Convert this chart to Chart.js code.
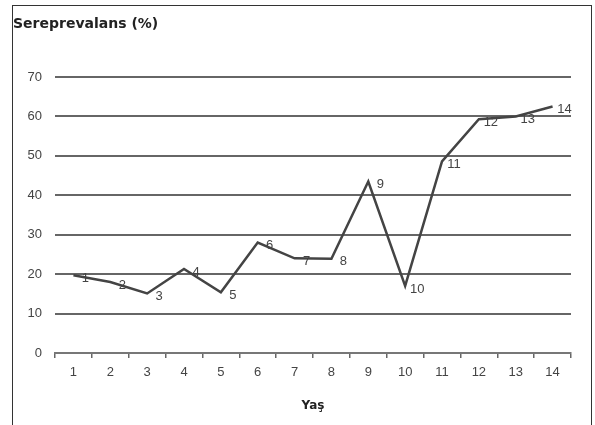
<!DOCTYPE html>
<html><head><meta charset="utf-8">
<script src="https://cdn.jsdelivr.net/npm/chart.js@4"></script>
<style>
html,body{margin:0;padding:0;background:#fff;}
#wrap{position:relative;width:595px;height:425px;overflow:hidden;}
#frame{position:absolute;left:12px;top:5px;width:580px;height:440px;border:1.5px solid #333;box-sizing:border-box;}
canvas{position:absolute;left:0;top:0;}
</style></head>
<body><div id="wrap"><div id="frame"></div><canvas id="c" width="595" height="425"></canvas></div>
<script>
const categories = ['1','2','3','4','5','6','7','8','9','10','11','12','13','14'];
const seroprevalence = [19.7, 18.0, 15.1, 21.3, 15.4, 28.0, 24.0, 23.9, 43.5, 17.0, 48.6, 59.3, 60.0, 62.5];
const yTitle = 'Sereprevalans (%)';
const xTitle = 'Yaş';

const FONT = '"Liberation Sans", Arial, sans-serif';

const pointLabels = {
  id: 'pointLabels',
  afterDatasetsDraw(chart) {
    const ctx = chart.ctx;
    const meta = chart.getDatasetMeta(0);
    ctx.save();
    ctx.font = '13px ' + FONT;
    ctx.fillStyle = '#444';
    ctx.textAlign = 'center';
    ctx.textBaseline = 'middle';
    meta.data.forEach((p, i) => {
      ctx.fillText(categories[i], p.x + 12, p.y + 3);
    });
    ctx.font = 'bold 14px "DejaVu Sans", sans-serif';
    ctx.fillStyle = '#222';
    ctx.textAlign = 'left';
    ctx.fillText(yTitle, 13, 24);
    ctx.restore();
  }
};

new Chart(document.getElementById('c'), {
  type: 'line',
  data: {
    labels: categories,
    datasets: [{
      data: seroprevalence,
      borderColor: '#444',
      borderWidth: 2.5,
      pointRadius: 0,
      tension: 0,
      fill: false
    }]
  },
  options: {
    responsive: false,
    animation: false,
    devicePixelRatio: 1,
    layout: { padding: { left: 0, top: 77, right: 24, bottom: 12 } },
    plugins: { legend: { display: false }, tooltip: { enabled: false }, title: { display: false } },
    scales: {
      x: {
        type: 'category',
        offset: true,
        grid: { offset: true, drawOnChartArea: false, drawTicks: true, tickLength: 5, color: '#666', lineWidth: 1.5 },
        border: { display: true, color: '#777', width: 2 },
        ticks: { color: '#444', padding: 7, font: { family: FONT, size: 13 }, maxRotation: 0, autoSkip: false },
        title: { display: true, text: xTitle, color: '#222', font: { family: '"DejaVu Sans", sans-serif', size: 12, weight: 'bold' }, padding: { top: 8, bottom: 0 } },
        afterFit: s => { s.height = 425 - 353 - 12; }
      },
      y: {
        min: 0, max: 70,
        ticks: { stepSize: 10, color: '#444', padding: 13, font: { family: FONT, size: 13 } },
        grid: { color: '#666', lineWidth: 2, drawTicks: false },
        border: { display: false },
        afterFit: s => { s.width = 55; }
      }
    }
  },
  plugins: [pointLabels]
});
</script>
</body></html>
